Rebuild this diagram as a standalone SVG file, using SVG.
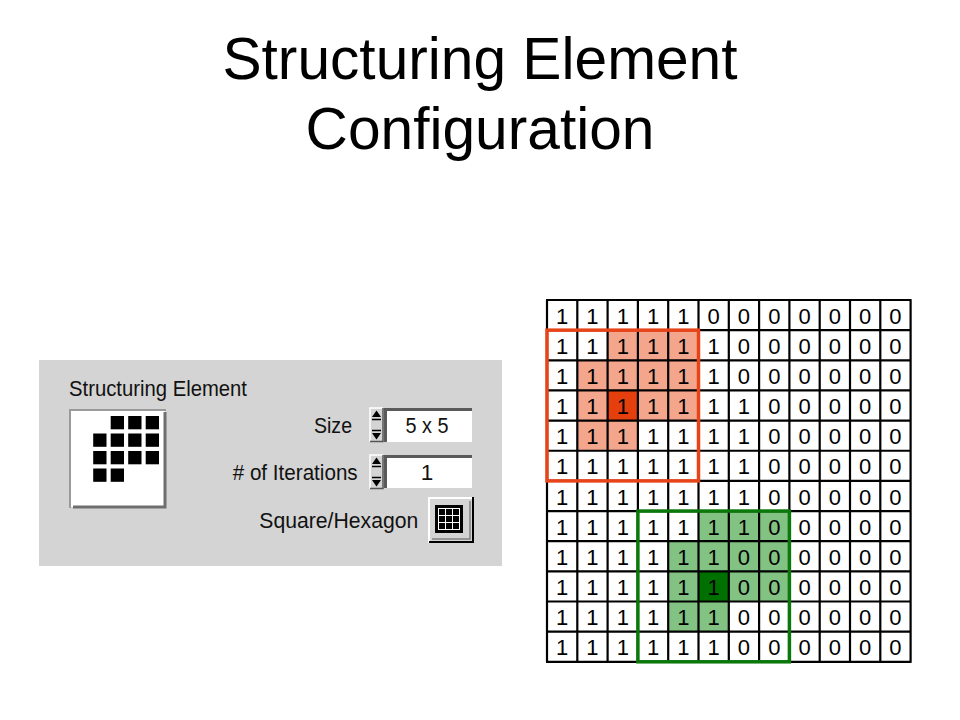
<svg xmlns="http://www.w3.org/2000/svg" width="960" height="720" viewBox="0 0 960 720">
<style>
.title{font-family:"Liberation Sans",Arial,sans-serif;font-size:58.67px;fill:#000;text-anchor:middle}
.ui{font-family:"Liberation Sans",Arial,sans-serif;font-size:22.5px;fill:#111}
.dig{font-family:"Liberation Sans",Arial,sans-serif;font-size:22px;fill:#000;text-anchor:middle}
.sq{fill:#000}
.lr{fill:#F4A68C}
.dr{fill:#E63F0E}
.lg{fill:#82C282}
.dg{fill:#007000}
</style>
<rect width="960" height="720" fill="#fff"/>
<g id="title">
<text class="title" x="480" y="79">Structuring Element</text>
<text class="title" x="480" y="149">Configuration</text>
</g>
<g id="panel">
<rect x="39" y="360" width="463" height="206" fill="#D4D4D4"/>
<text class="ui" x="69" y="396" textLength="178" lengthAdjust="spacingAndGlyphs">Structuring Element</text>
<g id="se-preview">
<rect x="71" y="411" width="94" height="96" fill="#fff"/>
<path d="M70,508 V410 H166" fill="none" stroke="#9A9A9A" stroke-width="2"/>
<path d="M73,507 H165 V412" fill="none" stroke="#6E6E6E" stroke-width="3"/>
<rect class="sq" x="110.7" y="416" width="13.3" height="13.3"/>
<rect class="sq" x="128.2" y="416" width="13.3" height="13.3"/>
<rect class="sq" x="145.7" y="416" width="13.3" height="13.3"/>
<rect class="sq" x="93.2" y="433.5" width="13.3" height="13.3"/>
<rect class="sq" x="110.7" y="433.5" width="13.3" height="13.3"/>
<rect class="sq" x="128.2" y="433.5" width="13.3" height="13.3"/>
<rect class="sq" x="145.7" y="433.5" width="13.3" height="13.3"/>
<rect class="sq" x="93.2" y="451" width="13.3" height="13.3"/>
<rect class="sq" x="110.7" y="451" width="13.3" height="13.3"/>
<rect class="sq" x="128.2" y="451" width="13.3" height="13.3"/>
<rect class="sq" x="145.7" y="451" width="13.3" height="13.3"/>
<rect class="sq" x="93.2" y="468.5" width="13.3" height="13.3"/>
<rect class="sq" x="110.7" y="468.5" width="13.3" height="13.3"/>
</g>
<text class="ui" x="314" y="433" textLength="38" lengthAdjust="spacingAndGlyphs">Size</text>
<text class="ui" x="232.7" y="480" textLength="125" lengthAdjust="spacingAndGlyphs"># of Iterations</text>
<text class="ui" x="259.3" y="528" textLength="159" lengthAdjust="spacingAndGlyphs">Square/Hexagon</text>
<g id="size-control">
<path d="M370,442 V408 H383" fill="none" stroke="#fff" stroke-width="1.5"/>
<path d="M370,441.5 H383 V408" fill="none" stroke="#555" stroke-width="1.5"/>
<polygon points="372,417 381,417 376.5,410.5" fill="#000"/>
<line x1="372" y1="419.5" x2="381" y2="419.5" stroke="#000" stroke-width="1.5"/>
<line x1="372" y1="430.5" x2="381" y2="430.5" stroke="#000" stroke-width="1.5"/>
<polygon points="372,433 381,433 376.5,439.5" fill="#000"/>
<rect x="384" y="408" width="88" height="34" fill="#fff"/>
<path d="M385.5,442 V409.5 H472" fill="none" stroke="#5A5A5A" stroke-width="3"/>
<text class="ui" x="427" y="433" text-anchor="middle" textLength="43" lengthAdjust="spacingAndGlyphs">5 x 5</text>
</g>
<g id="iterations-control">
<path d="M370,489 V455 H383" fill="none" stroke="#fff" stroke-width="1.5"/>
<path d="M370,488.5 H383 V455" fill="none" stroke="#555" stroke-width="1.5"/>
<polygon points="372,464 381,464 376.5,457.5" fill="#000"/>
<line x1="372" y1="466.5" x2="381" y2="466.5" stroke="#000" stroke-width="1.5"/>
<line x1="372" y1="477.5" x2="381" y2="477.5" stroke="#000" stroke-width="1.5"/>
<polygon points="372,480 381,480 376.5,486.5" fill="#000"/>
<rect x="384" y="455" width="88" height="33" fill="#fff"/>
<path d="M385.5,488 V456.5 H472" fill="none" stroke="#5A5A5A" stroke-width="3"/>
<text class="ui" x="427" y="480" text-anchor="middle">1</text>
</g>
<g id="shape-button">
<rect x="428" y="497" width="46" height="46" fill="#D4D4D4"/>
<path d="M429,543 V498 H474" fill="none" stroke="#fff" stroke-width="2"/>
<path d="M429,542 H473 V497" fill="none" stroke="#000" stroke-width="2"/>
<path d="M432,539 H470 V501" fill="none" stroke="#808080" stroke-width="1.5"/>
<rect x="435" y="505" width="28" height="28" fill="#000"/>
<rect x="438" y="508" width="22" height="22" fill="#fff"/>
<rect class="sq" x="439" y="509" width="6" height="6"/>
<rect class="sq" x="446" y="509" width="6" height="6"/>
<rect class="sq" x="453" y="509" width="6" height="6"/>
<rect class="sq" x="439" y="516" width="6" height="6"/>
<rect class="sq" x="446" y="516" width="6" height="6"/>
<rect class="sq" x="453" y="516" width="6" height="6"/>
<rect class="sq" x="439" y="523" width="6" height="6"/>
<rect class="sq" x="446" y="523" width="6" height="6"/>
<rect class="sq" x="453" y="523" width="6" height="6"/>
</g>
</g>
<g id="grid">
<g id="shading">
<rect class="lr" x="607.6" y="330.15" width="90.9" height="30.15"/>
<rect class="lr" x="577.3" y="360.3" width="121.2" height="60.3"/>
<rect class="lr" x="577.3" y="420.6" width="60.6" height="30.15"/>
<rect class="dr" x="607.6" y="390.45" width="30.3" height="30.15"/>
<rect class="lg" x="698.5" y="511.05" width="90.9" height="30.15"/>
<rect class="lg" x="668.2" y="541.2" width="121.2" height="60.3"/>
<rect class="lg" x="668.2" y="601.5" width="60.6" height="30.15"/>
<rect class="dg" x="698.5" y="571.35" width="30.3" height="30.15"/>
</g>
<path fill="none" stroke="#000" stroke-width="2.2" d="M547,300V661.8 M577.3,300V661.8 M607.6,300V661.8 M637.9,300V661.8 M668.2,300V661.8 M698.5,300V661.8 M728.8,300V661.8 M759.1,300V661.8 M789.4,300V661.8 M819.7,300V661.8 M850,300V661.8 M880.3,300V661.8 M910.6,300V661.8 M546,300H911.6 M546,330.15H911.6 M546,360.3H911.6 M546,390.45H911.6 M546,420.6H911.6 M546,450.75H911.6 M546,480.9H911.6 M546,511.05H911.6 M546,541.2H911.6 M546,571.35H911.6 M546,601.5H911.6 M546,631.65H911.6 M546,661.8H911.6"/>
<g id="digits">
<text class="dig" x="562.15 592.45 622.75 653.05 683.35 713.65 743.95 774.25 804.55 834.85 865.15 895.45" y="323.6">111110000000</text>
<text class="dig" x="562.15 592.45 622.75 653.05 683.35 713.65 743.95 774.25 804.55 834.85 865.15 895.45" y="353.75">111111000000</text>
<text class="dig" x="562.15 592.45 622.75 653.05 683.35 713.65 743.95 774.25 804.55 834.85 865.15 895.45" y="383.9">111111000000</text>
<text class="dig" x="562.15 592.45 622.75 653.05 683.35 713.65 743.95 774.25 804.55 834.85 865.15 895.45" y="414.05">111111100000</text>
<text class="dig" x="562.15 592.45 622.75 653.05 683.35 713.65 743.95 774.25 804.55 834.85 865.15 895.45" y="444.2">111111100000</text>
<text class="dig" x="562.15 592.45 622.75 653.05 683.35 713.65 743.95 774.25 804.55 834.85 865.15 895.45" y="474.35">111111100000</text>
<text class="dig" x="562.15 592.45 622.75 653.05 683.35 713.65 743.95 774.25 804.55 834.85 865.15 895.45" y="504.5">111111100000</text>
<text class="dig" x="562.15 592.45 622.75 653.05 683.35 713.65 743.95 774.25 804.55 834.85 865.15 895.45" y="534.65">111111100000</text>
<text class="dig" x="562.15 592.45 622.75 653.05 683.35 713.65 743.95 774.25 804.55 834.85 865.15 895.45" y="564.8">111111000000</text>
<text class="dig" x="562.15 592.45 622.75 653.05 683.35 713.65 743.95 774.25 804.55 834.85 865.15 895.45" y="594.95">111111000000</text>
<text class="dig" x="562.15 592.45 622.75 653.05 683.35 713.65 743.95 774.25 804.55 834.85 865.15 895.45" y="625.1">111111000000</text>
<text class="dig" x="562.15 592.45 622.75 653.05 683.35 713.65 743.95 774.25 804.55 834.85 865.15 895.45" y="655.25">111111000000</text>
</g>
<rect x="547" y="330.15" width="151.5" height="150.75" fill="none" stroke="#E8441A" stroke-width="3.5"/>
<rect x="637.9" y="511.05" width="151.5" height="150.75" fill="none" stroke="#0B780B" stroke-width="3.5"/>
</g>
</svg>
